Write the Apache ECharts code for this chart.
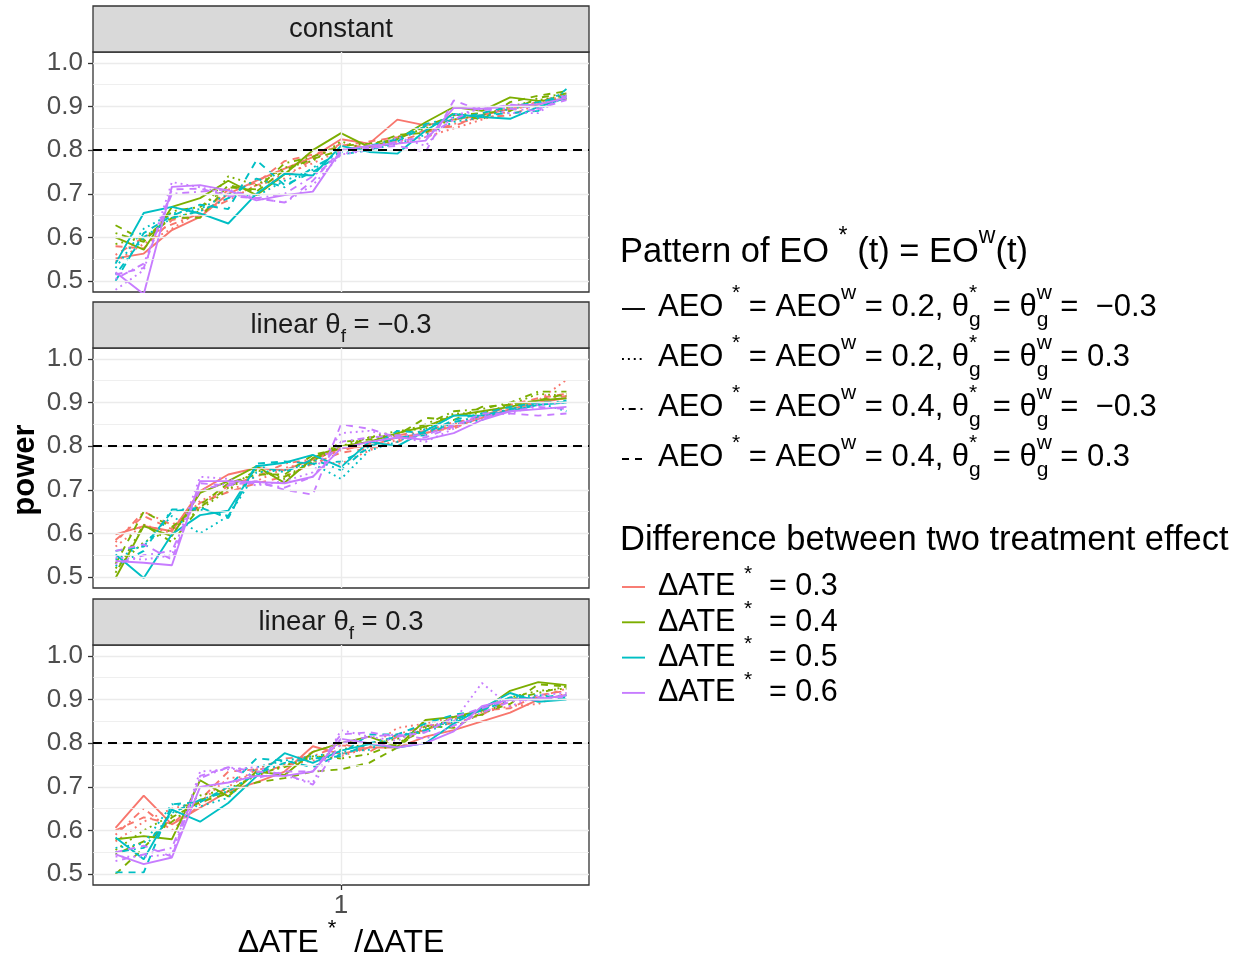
<!DOCTYPE html>
<html>
<head>
<meta charset="utf-8">
<script src="https://cdn.jsdelivr.net/npm/echarts@6/dist/echarts.min.js"></script>
<style>
  html, body { margin: 0; padding: 0; background: #ffffff; }
  #chart { width: 1242px; height: 965px; }
</style>
</head>
<body>
<div id="chart"></div>
<script>
// x values: ratio of the assumed to the true difference
const ratio = [0.2, 0.3, 0.4, 0.5, 0.6, 0.7, 0.8, 0.9, 1.0, 1.1, 1.2, 1.3, 1.4, 1.5, 1.6, 1.7, 1.8];
const xTicks = [1];
const yTicks = [0.5, 0.6, 0.7, 0.8, 0.9, 1.0];
const targetPower = 0.8;

const diffLevels = ['0.3', '0.4', '0.5', '0.6'];
const aeoLevels = ['0.2', '0.2', '0.4', '0.4'];
const thetaLevels = ['\u22120.3', '0.3', '\u22120.3', '0.3'];

// power per ΔATE*; rows: solid, dotted, dotdash, dashed pattern of EO
const constantD03 = [
  [0.552, 0.563, 0.617, 0.647, 0.700, 0.730, 0.758, 0.784, 0.825, 0.815, 0.870, 0.857, 0.870, 0.880, 0.895, 0.905, 0.920],
  [0.545, 0.585, 0.620, 0.660, 0.690, 0.720, 0.745, 0.770, 0.800, 0.810, 0.815, 0.830, 0.850, 0.870, 0.890, 0.910, 0.925],
  [0.560, 0.600, 0.630, 0.655, 0.685, 0.720, 0.735, 0.780, 0.815, 0.805, 0.820, 0.840, 0.860, 0.875, 0.880, 0.905, 0.920],
  [0.580, 0.575, 0.640, 0.650, 0.710, 0.725, 0.775, 0.790, 0.810, 0.820, 0.830, 0.845, 0.855, 0.880, 0.900, 0.910, 0.930]
];
const constantD04 = [
  [0.600, 0.572, 0.670, 0.690, 0.730, 0.697, 0.745, 0.800, 0.839, 0.807, 0.825, 0.864, 0.899, 0.890, 0.921, 0.913, 0.917],
  [0.585, 0.600, 0.645, 0.660, 0.740, 0.720, 0.760, 0.775, 0.820, 0.800, 0.830, 0.850, 0.870, 0.880, 0.900, 0.915, 0.925],
  [0.610, 0.590, 0.660, 0.670, 0.715, 0.710, 0.770, 0.785, 0.810, 0.815, 0.825, 0.855, 0.880, 0.885, 0.890, 0.920, 0.930],
  [0.628, 0.594, 0.645, 0.645, 0.720, 0.705, 0.755, 0.780, 0.800, 0.810, 0.835, 0.840, 0.885, 0.870, 0.910, 0.925, 0.935]
];
const constantD05 = [
  [0.540, 0.656, 0.670, 0.655, 0.632, 0.700, 0.746, 0.742, 0.810, 0.796, 0.792, 0.845, 0.883, 0.876, 0.872, 0.899, 0.920],
  [0.530, 0.620, 0.655, 0.665, 0.700, 0.695, 0.730, 0.755, 0.800, 0.800, 0.815, 0.835, 0.865, 0.875, 0.895, 0.905, 0.935],
  [0.515, 0.600, 0.645, 0.660, 0.690, 0.735, 0.715, 0.760, 0.795, 0.810, 0.825, 0.860, 0.875, 0.880, 0.885, 0.890, 0.940],
  [0.500, 0.610, 0.650, 0.675, 0.665, 0.777, 0.720, 0.750, 0.790, 0.800, 0.820, 0.855, 0.870, 0.885, 0.900, 0.910, 0.925]
];
const constantD06 = [
  [0.520, 0.470, 0.716, 0.720, 0.708, 0.685, 0.697, 0.705, 0.800, 0.810, 0.815, 0.822, 0.897, 0.895, 0.902, 0.905, 0.920],
  [0.480, 0.525, 0.727, 0.715, 0.700, 0.690, 0.680, 0.720, 0.790, 0.800, 0.830, 0.810, 0.880, 0.895, 0.885, 0.885, 0.930],
  [0.505, 0.540, 0.700, 0.705, 0.710, 0.690, 0.700, 0.740, 0.790, 0.805, 0.820, 0.830, 0.870, 0.900, 0.895, 0.890, 0.925],
  [0.515, 0.530, 0.710, 0.712, 0.695, 0.690, 0.680, 0.730, 0.800, 0.805, 0.810, 0.796, 0.914, 0.890, 0.905, 0.895, 0.915]
];

const linNegD03 = [
  [0.598, 0.617, 0.605, 0.697, 0.735, 0.750, 0.745, 0.770, 0.795, 0.800, 0.820, 0.830, 0.845, 0.865, 0.885, 0.900, 0.910],
  [0.570, 0.620, 0.600, 0.675, 0.700, 0.720, 0.750, 0.765, 0.760, 0.790, 0.815, 0.830, 0.850, 0.870, 0.880, 0.905, 0.952],
  [0.580, 0.650, 0.620, 0.660, 0.710, 0.730, 0.760, 0.770, 0.790, 0.805, 0.825, 0.835, 0.840, 0.870, 0.890, 0.905, 0.915],
  [0.585, 0.640, 0.610, 0.670, 0.695, 0.715, 0.730, 0.760, 0.785, 0.795, 0.810, 0.835, 0.855, 0.865, 0.895, 0.910, 0.920]
];
const linNegD04 = [
  [0.498, 0.617, 0.594, 0.693, 0.720, 0.754, 0.716, 0.773, 0.800, 0.810, 0.830, 0.845, 0.870, 0.880, 0.890, 0.905, 0.910],
  [0.520, 0.580, 0.610, 0.655, 0.700, 0.745, 0.725, 0.765, 0.800, 0.820, 0.835, 0.840, 0.875, 0.875, 0.895, 0.920, 0.915],
  [0.510, 0.620, 0.580, 0.660, 0.705, 0.745, 0.730, 0.765, 0.810, 0.815, 0.830, 0.850, 0.880, 0.885, 0.900, 0.925, 0.925],
  [0.530, 0.650, 0.615, 0.665, 0.715, 0.735, 0.735, 0.780, 0.795, 0.820, 0.825, 0.865, 0.860, 0.890, 0.895, 0.905, 0.920]
];
const linNegD05 = [
  [0.552, 0.498, 0.598, 0.642, 0.652, 0.754, 0.762, 0.780, 0.752, 0.810, 0.800, 0.835, 0.870, 0.870, 0.880, 0.895, 0.900],
  [0.540, 0.575, 0.640, 0.600, 0.640, 0.740, 0.745, 0.760, 0.725, 0.790, 0.810, 0.840, 0.850, 0.860, 0.885, 0.900, 0.880],
  [0.525, 0.560, 0.655, 0.655, 0.640, 0.755, 0.740, 0.770, 0.745, 0.800, 0.820, 0.825, 0.855, 0.870, 0.885, 0.895, 0.905],
  [0.560, 0.570, 0.650, 0.660, 0.635, 0.760, 0.765, 0.760, 0.765, 0.795, 0.835, 0.830, 0.860, 0.875, 0.890, 0.900, 0.900]
];
const linNegD06 = [
  [0.537, 0.533, 0.527, 0.720, 0.720, 0.718, 0.715, 0.730, 0.795, 0.810, 0.820, 0.815, 0.830, 0.860, 0.880, 0.885, 0.890],
  [0.545, 0.540, 0.550, 0.730, 0.725, 0.710, 0.720, 0.740, 0.830, 0.835, 0.820, 0.810, 0.840, 0.870, 0.875, 0.895, 0.900],
  [0.530, 0.550, 0.560, 0.700, 0.715, 0.715, 0.705, 0.730, 0.810, 0.820, 0.825, 0.825, 0.850, 0.865, 0.880, 0.890, 0.885],
  [0.560, 0.575, 0.540, 0.715, 0.710, 0.720, 0.700, 0.689, 0.850, 0.840, 0.820, 0.820, 0.845, 0.875, 0.875, 0.870, 0.875]
];

const linPosD03 = [
  [0.606, 0.680, 0.614, 0.652, 0.690, 0.710, 0.735, 0.793, 0.775, 0.790, 0.790, 0.815, 0.830, 0.850, 0.870, 0.900, 0.910],
  [0.575, 0.620, 0.650, 0.665, 0.720, 0.725, 0.750, 0.760, 0.770, 0.790, 0.835, 0.845, 0.860, 0.870, 0.885, 0.890, 0.915],
  [0.590, 0.650, 0.600, 0.660, 0.700, 0.740, 0.765, 0.770, 0.795, 0.790, 0.820, 0.840, 0.845, 0.865, 0.900, 0.905, 0.925],
  [0.600, 0.630, 0.615, 0.670, 0.735, 0.740, 0.745, 0.780, 0.800, 0.780, 0.815, 0.830, 0.855, 0.875, 0.880, 0.910, 0.920]
];
const linPosD04 = [
  [0.580, 0.587, 0.580, 0.715, 0.678, 0.735, 0.727, 0.780, 0.800, 0.815, 0.792, 0.853, 0.860, 0.875, 0.920, 0.940, 0.933],
  [0.555, 0.600, 0.635, 0.680, 0.695, 0.725, 0.750, 0.765, 0.785, 0.800, 0.810, 0.835, 0.850, 0.880, 0.905, 0.920, 0.925],
  [0.545, 0.575, 0.620, 0.670, 0.690, 0.730, 0.745, 0.770, 0.765, 0.775, 0.800, 0.830, 0.860, 0.865, 0.900, 0.915, 0.930],
  [0.500, 0.560, 0.630, 0.665, 0.685, 0.710, 0.720, 0.735, 0.740, 0.755, 0.790, 0.840, 0.835, 0.870, 0.890, 0.935, 0.930]
];
const linPosD05 = [
  [0.584, 0.534, 0.648, 0.620, 0.663, 0.724, 0.777, 0.755, 0.783, 0.798, 0.790, 0.800, 0.845, 0.880, 0.915, 0.895, 0.900],
  [0.560, 0.570, 0.660, 0.655, 0.675, 0.745, 0.760, 0.770, 0.780, 0.785, 0.820, 0.825, 0.850, 0.880, 0.905, 0.910, 0.905],
  [0.550, 0.560, 0.640, 0.670, 0.690, 0.730, 0.755, 0.765, 0.770, 0.800, 0.815, 0.830, 0.855, 0.875, 0.900, 0.905, 0.910],
  [0.504, 0.504, 0.660, 0.665, 0.700, 0.765, 0.760, 0.745, 0.775, 0.820, 0.820, 0.845, 0.865, 0.875, 0.905, 0.900, 0.905]
];
const linPosD06 = [
  [0.545, 0.523, 0.538, 0.700, 0.710, 0.725, 0.725, 0.735, 0.810, 0.800, 0.790, 0.800, 0.827, 0.885, 0.900, 0.900, 0.910],
  [0.540, 0.540, 0.545, 0.735, 0.740, 0.745, 0.725, 0.710, 0.830, 0.815, 0.805, 0.840, 0.850, 0.938, 0.884, 0.910, 0.915],
  [0.530, 0.545, 0.560, 0.720, 0.745, 0.735, 0.730, 0.705, 0.800, 0.815, 0.820, 0.810, 0.840, 0.870, 0.895, 0.905, 0.905],
  [0.550, 0.565, 0.540, 0.725, 0.745, 0.720, 0.735, 0.735, 0.820, 0.825, 0.815, 0.825, 0.860, 0.880, 0.900, 0.900, 0.910]
];

const panelValues = [
  [constantD03, constantD04, constantD05, constantD06],
  [linNegD03, linNegD04, linNegD05, linNegD06],
  [linPosD03, linPosD04, linPosD05, linPosD06]
];

// ---------- appearance ----------
const FONT = '"Liberation Sans", Arial, Helvetica, sans-serif';
const COLORS = ['#F8766D', '#7CAE00', '#00BFC4', '#C77CFF'];
const LW = 1.9;
const DASHES = ['solid', [1.9, 4], [1.9, 4.8, 7, 4.8], [7, 6]];
const GRID_LEFT = 93, GRID_W = 496, GRID_H = 240;
const GRID_TOPS = [52, 348, 645];
const STRIP_H = 46;
const Y_MIN = 0.475, Y_MAX = 1.025;
const X_MIN = 0.12, X_MAX = 1.88;

// math-like text: normal runs, superscripts, subscripts and stacked sub/superscripts
function mathText(segs, x, y, size, align, color) {
  color = color || '#000000';
  const small = Math.round(size * 0.68);
  const L = Math.round(size * 1.55);
  const stW = Math.round(small * 0.72);
  const clear = 'rgba(0,0,0,0)';
  const base = { fontSize: size, fontFamily: FONT, lineHeight: L };
  const sm = { fontSize: small, fontFamily: FONT, lineHeight: small };
  const rich = {
    n: Object.assign({}, base, { fill: color }),
    nh: Object.assign({}, base, { fill: clear }),
    sp: Object.assign({}, sm, { fill: color, verticalAlign: 'top' }),
    sph: Object.assign({}, sm, { fill: clear, verticalAlign: 'top' }),
    sb: Object.assign({}, sm, { fill: color, verticalAlign: 'bottom' }),
    sbh: Object.assign({}, sm, { fill: clear, verticalAlign: 'bottom' }),
    sw: Object.assign({}, sm, { fill: color, verticalAlign: 'bottom', width: stW }),
    ss: Object.assign({}, sm, { fill: color, verticalAlign: 'top', width: stW })
  };
  let a = '', b = '', stacked = false;
  segs.forEach(function (s) {
    if (s[0] === 'n') { a += '{n|' + s[1] + '}'; b += '{nh|' + s[1] + '}'; }
    else if (s[0] === 'sp') { a += '{sp|' + s[1] + '}'; b += '{sph|' + s[1] + '}'; }
    else if (s[0] === 'sb') { a += '{sb|' + s[1] + '}'; b += '{sbh|' + s[1] + '}'; }
    else { a += '{sw|' + s[1] + '}'; b += '{ss|' + s[2] + '}'; stacked = true; }
  });
  const mk = function (txt) {
    return { type: 'text', x: x, y: y, silent: true, z: 10,
      style: { text: txt, rich: rich, align: align, verticalAlign: 'middle' } };
  };
  return stacked ? [mk(a), mk(b)] : [mk(a)];
}

const stripTitles = [
  [['n', 'constant']],
  [['n', 'linear \u03B8'], ['sb', 'f'], ['n', ' = \u22120.3']],
  [['n', 'linear \u03B8'], ['sb', 'f'], ['n', ' = 0.3']]
];

const grids = [], xAxes = [], yAxes = [], series = [];
let graphics = [];

GRID_TOPS.forEach(function (top, p) {
  grids.push({ left: GRID_LEFT, top: top, width: GRID_W, height: GRID_H, show: true,
    backgroundColor: '#ffffff', borderColor: '#333333', borderWidth: 1.3, containLabel: false });
  const bottom = p === GRID_TOPS.length - 1;
  xAxes.push({ gridIndex: p, type: 'value', min: X_MIN, max: X_MAX,
    axisLine: { show: false }, splitLine: { show: false },
    axisTick: { show: bottom, customValues: xTicks, length: 5, lineStyle: { color: '#333333', width: 1.3 } },
    axisLabel: { show: bottom, customValues: xTicks, formatter: function (v) { return String(v); },
      fontSize: 26, fontFamily: FONT, color: '#4D4D4D', margin: 8 } });
  yAxes.push({ gridIndex: p, type: 'value', min: Y_MIN, max: Y_MAX,
    axisLine: { show: false }, splitLine: { show: false },
    axisTick: { show: true, customValues: yTicks, length: 5, lineStyle: { color: '#333333', width: 1.3 } },
    axisLabel: { show: true, customValues: yTicks, formatter: function (v) { return v.toFixed(1); },
      fontSize: 26, fontFamily: FONT, color: '#4D4D4D', margin: 10 } });

  // background grid lines
  const gl = [];
  for (let k = 0; k <= 10; k++) {
    const v = +(0.5 + k * 0.05).toFixed(2);
    gl.push({ yAxis: v, lineStyle: { width: k % 2 === 0 ? 1.4 : 0.8 } });
  }
  xTicks.forEach(function (v) { gl.push({ xAxis: v, lineStyle: { width: 1.4 } }); });
  series.push({ type: 'line', xAxisIndex: p, yAxisIndex: p, data: [], z: 1, silent: true,
    markLine: { silent: true, symbol: ['none', 'none'], label: { show: false }, animation: false,
      lineStyle: { color: '#EBEBEB', type: 'solid' }, data: gl } });

  // power curves
  panelValues[p].forEach(function (rows, c) {
    rows.forEach(function (vals, k) {
      series.push({ type: 'line', xAxisIndex: p, yAxisIndex: p, z: 2, silent: true,
        symbol: 'none', showSymbol: false,
        data: ratio.map(function (x, i) { return [x, vals[i]]; }),
        lineStyle: { color: COLORS[c], width: LW, type: DASHES[k], cap: 'butt' } });
    });
  });

  // target power
  series.push({ type: 'line', xAxisIndex: p, yAxisIndex: p, data: [], z: 3, silent: true,
    markLine: { silent: true, symbol: ['none', 'none'], label: { show: false }, animation: false,
      lineStyle: { color: '#000000', type: [9, 6], width: 1.8 }, data: [{ yAxis: targetPower }] } });

  // facet strip
  graphics.push({ type: 'rect', silent: true, z: 5,
    shape: { x: GRID_LEFT, y: top - STRIP_H, width: GRID_W, height: STRIP_H },
    style: { fill: '#D9D9D9', stroke: '#333333', lineWidth: 1.3 } });
  graphics = graphics.concat(mathText(stripTitles[p], GRID_LEFT + GRID_W / 2, top - STRIP_H / 2, 27.5, 'center', '#1A1A1A'));
});

// axis titles
graphics.push({ type: 'text', x: 25, y: 470, rotation: Math.PI / 2, silent: true, z: 10,
  style: { text: 'power', fontSize: 31, fontWeight: 'bold', fontFamily: FONT, fill: '#000000',
    align: 'center', verticalAlign: 'middle' } });
graphics = graphics.concat(mathText([['n', '\u0394ATE '], ['sp', '*'], ['n', '  /\u0394ATE']],
  GRID_LEFT + GRID_W / 2, 943, 32, 'center'));

// legend: pattern of EO
const LEG_X = 620, KEY_X1 = 622, KEY_X2 = 645, LABEL_X = 658;
graphics = graphics.concat(mathText([['n', 'Pattern of EO '], ['sp', '*'], ['n', ' (t) = EO'], ['sp', 'w'], ['n', '(t)']],
  LEG_X, 252, 34.5, 'left'));
aeoLevels.forEach(function (aeo, k) {
  const y = 307 + k * 50;
  graphics.push({ type: 'line', silent: true, z: 10,
    shape: { x1: KEY_X1, y1: y + 2, x2: KEY_X2, y2: y + 2 },
    style: { stroke: '#000000', lineWidth: LW, lineDash: DASHES[k] === 'solid' ? null : DASHES[k] } });
  const th = thetaLevels[k].charAt(0) === '\u2212' ? ' ' + thetaLevels[k] : thetaLevels[k];
  graphics = graphics.concat(mathText([
    ['n', 'AEO '], ['sp', '*'], ['n', ' = AEO'], ['sp', 'w'], ['n', ' = ' + aeo + ', \u03B8'],
    ['st', 'g', '*'], ['n', ' = \u03B8'], ['st', 'g', 'w'], ['n', ' = ' + th]
  ], LABEL_X, y, 31, 'left'));
});

// legend: difference between treatment effects
graphics = graphics.concat(mathText([['n', 'Difference between two treatment effect']], LEG_X, 540, 34.5, 'left'));
diffLevels.forEach(function (d, c) {
  const y = 587 + c * 35.3;
  graphics.push({ type: 'line', silent: true, z: 10,
    shape: { x1: KEY_X1, y1: y, x2: KEY_X2, y2: y },
    style: { stroke: COLORS[c], lineWidth: LW } });
  graphics = graphics.concat(mathText([['n', '\u0394ATE '], ['sp', '*'], ['n', '  = ' + d]], LABEL_X, y, 30.5, 'left'));
});

const chart = echarts.init(document.getElementById('chart'));
chart.setOption({
  animation: false,
  backgroundColor: '#ffffff',
  grid: grids,
  xAxis: xAxes,
  yAxis: yAxes,
  series: series,
  graphic: { elements: graphics }
});
</script>
</body>
</html>
